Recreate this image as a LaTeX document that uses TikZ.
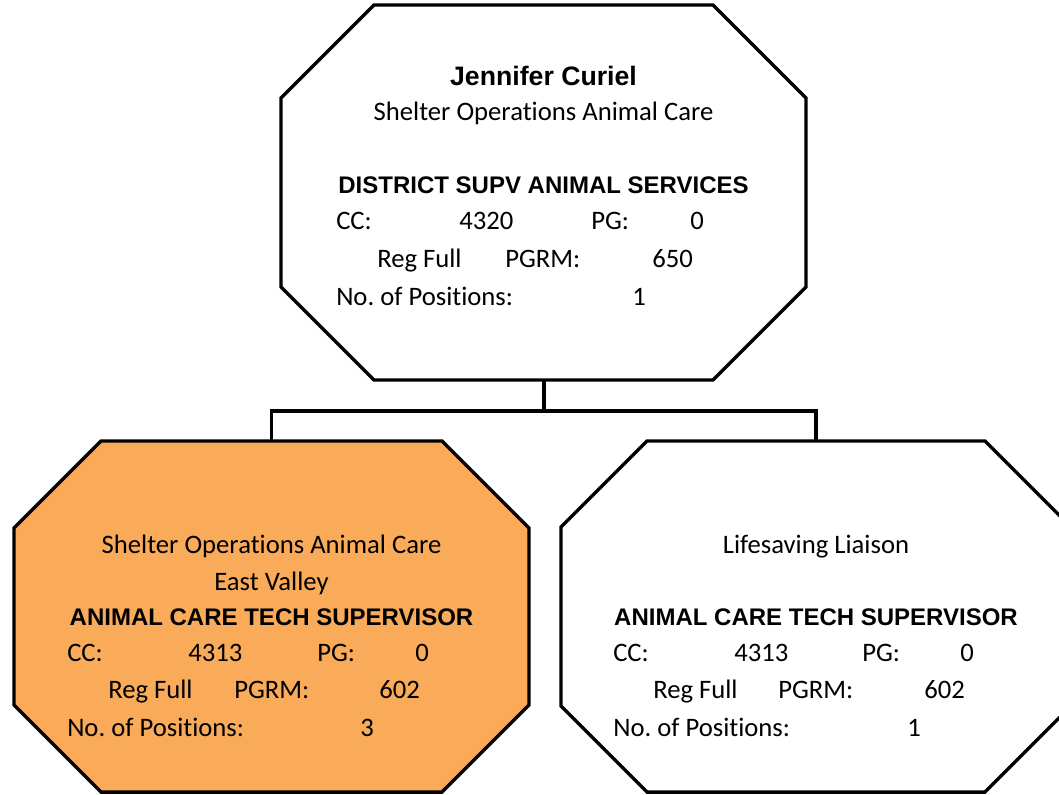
\documentclass[tikz,border=0pt]{standalone}
\usepackage{fontspec}
\setmainfont{Carlito}[Ligatures=NoCommon]
\newfontfamily\arialfont{Liberation Sans}
\definecolor{evorange}{RGB}{250,171,90}

\begin{document}
\frenchspacing
\begin{tikzpicture}[x=0.75pt,y=0.75pt,yscale=-1,xscale=1,
    txt/.style={anchor=base west,inner sep=0.75pt,font=\fontsize{20}{24}\selectfont},
    ctr/.style={anchor=base,inner sep=0.75pt,font=\fontsize{20}{24}\selectfont},
    hd/.style={anchor=base,inner sep=0.75pt,font=\arialfont\bfseries\fontsize{18}{22}\selectfont},
    box/.style={line width=2.6pt,line join=miter}]
    \useasboundingbox (0,0) rectangle (1059,794);
    \clip (0,0) rectangle (1059,794);

    %Shape: Octagon top
    \draw [box] (374,5) -- (713,5) -- (806,98) -- (806,287) -- (713,380) -- (374,380) -- (281,287) -- (281,98) -- cycle ;
    %Shape: Octagon left
    \draw [box,fill=evorange] (101,441) -- (442,441) -- (529,528) -- (529,705) -- (442,792) -- (101,792) -- (14,705) -- (14,528) -- cycle ;
    %Shape: Octagon right
    \draw [box] (647,441) -- (985,441) -- (1071,527) -- (1071,706) -- (985,792) -- (647,792) -- (561,706) -- (561,527) -- cycle ;

    \coordinate (boss-bot) at (544,380);
    \coordinate (ev-top) at (271.5,441);
    \coordinate (ls-top) at (816,441);

    %Straight Lines
    \draw [box] (boss-bot) -- ++(0,31) -| (ev-top);
    \draw [box] (boss-bot) -- ++(0,31) -| (ls-top);

    % Text Node
    \draw (543.5,85) node (bossname) [anchor=base,inner sep=0.75pt,font=\arialfont\bfseries\fontsize{20}{24}\selectfont] {Jennifer Curiel};
    % Text Node
    \draw (543.5,120) node (bossunit) [ctr] {Shelter Operations Animal Care};
    % Text Node
    \draw (543.5,193) node (bosstitle) [hd] {DISTRICT SUPV ANIMAL SERVICES};
    % Text Node
    \draw (335,229) node (bosscc) [txt] {CC:};
    \draw (458,229) node (bossccv) [txt] {4320};
    \draw (590,229) node (bosspg) [txt] {PG:};
    \draw (689,229) node (bosspgv) [txt] {0};
    % Text Node
    \draw (376,267) node (bossreg) [txt] {Reg Full};
    \draw (504,267) node (bosspgrm) [txt] {PGRM:};
    \draw (651,267) node (bosspgrmv) [txt] {650};
    % Text Node
    \draw (335,305) node (bossno) [txt] {No. of Positions:};
    \draw (631,305) node (bossnov) [txt] {1};

    % Text Node
    \draw (271.5,553) node (evunit) [ctr] {Shelter Operations Animal Care};
    \draw (271.5,590) node (evarea) [ctr] {East Valley};
    % Text Node
    \draw (271.5,625) node (evtitle) [hd] {ANIMAL CARE TECH SUPERVISOR};
    % Text Node
    \draw (66,661) node (evcc) [txt] {CC:};
    \draw (187,661) node (evccv) [txt] {4313};
    \draw (316,661) node (evpg) [txt] {PG:};
    \draw (414,661) node (evpgv) [txt] {0};
    % Text Node
    \draw (107,698) node (evreg) [txt] {Reg Full};
    \draw (233,698) node (evpgrm) [txt] {PGRM:};
    \draw (378,698) node (evpgrmv) [txt] {602};
    % Text Node
    \draw (66,736) node (evno) [txt] {No. of Positions:};
    \draw (359,736) node (evnov) [txt] {3};

    % Text Node
    \draw (816,553) node (lsunit) [ctr] {Lifesaving Liaison};
    % Text Node
    \draw (816,625) node (lstitle) [hd] {ANIMAL CARE TECH SUPERVISOR};
    % Text Node
    \draw (612,661) node (lscc) [txt] {CC:};
    \draw (733,661) node (lsccv) [txt] {4313};
    \draw (861,661) node (lspg) [txt] {PG:};
    \draw (959,661) node (lspgv) [txt] {0};
    % Text Node
    \draw (652,698) node (lsreg) [txt] {Reg Full};
    \draw (777,698) node (lspgrm) [txt] {PGRM:};
    \draw (923,698) node (lspgrmv) [txt] {602};
    % Text Node
    \draw (612,736) node (lsno) [txt] {No. of Positions:};
    \draw (906,736) node (lsnov) [txt] {1};

\end{tikzpicture}
\end{document}
